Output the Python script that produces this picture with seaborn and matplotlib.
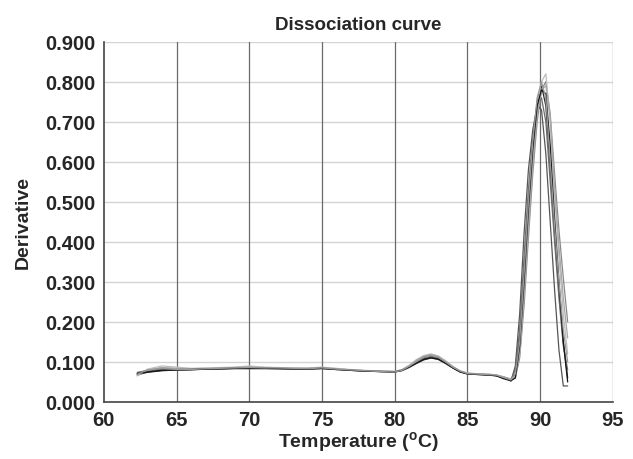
import pandas as pd; import numpy as np
import seaborn as sns; import matplotlib.pyplot as plt

temps = [62.3, 63, 64, 65, 66, 67, 68, 69, 70, 71, 72, 73, 74, 75, 76, 77, 78, 79, 80,
         80.5, 81, 81.5, 82, 82.5, 83, 83.5, 84, 84.5, 85, 85.5, 86, 86.5, 87, 87.5,
         88, 88.3, 88.6, 88.9, 89.2, 89.5, 89.8, 90.1, 90.4, 90.7, 91.0, 91.3, 91.6, 91.9]

curve_a = [0.068, 0.074, 0.078, 0.080, 0.081, 0.082, 0.083, 0.084, 0.085, 0.084, 0.084, 0.083, 0.083, 0.084, 0.082, 0.080, 0.078, 0.077, 0.076,
           0.080, 0.088, 0.098, 0.108, 0.112, 0.108, 0.098, 0.086, 0.076, 0.071, 0.070, 0.069, 0.068, 0.066, 0.060,
           0.055, 0.07, 0.16, 0.33, 0.50, 0.65, 0.75, 0.79, 0.74, 0.58, 0.42, 0.28, 0.15, 0.06]
curve_b = [0.072, 0.080, 0.085, 0.084, 0.083, 0.084, 0.085, 0.086, 0.088, 0.086, 0.085, 0.084, 0.084, 0.086, 0.083, 0.080, 0.078, 0.076, 0.075,
           0.079, 0.090, 0.103, 0.113, 0.118, 0.114, 0.102, 0.088, 0.077, 0.072, 0.070, 0.069, 0.069, 0.067, 0.062,
           0.056, 0.06, 0.11, 0.24, 0.41, 0.57, 0.70, 0.78, 0.80, 0.72, 0.57, 0.43, 0.31, 0.20]
curve_c = [0.070, 0.076, 0.080, 0.079, 0.080, 0.082, 0.082, 0.083, 0.083, 0.083, 0.083, 0.082, 0.082, 0.083, 0.081, 0.079, 0.077, 0.076, 0.075,
           0.078, 0.086, 0.096, 0.105, 0.110, 0.106, 0.096, 0.085, 0.075, 0.070, 0.069, 0.068, 0.067, 0.066, 0.062,
           0.052, 0.09, 0.22, 0.42, 0.58, 0.68, 0.74, 0.73, 0.62, 0.45, 0.28, 0.13, 0.04, 0.04]
curve_d = [0.065, 0.082, 0.090, 0.087, 0.084, 0.085, 0.086, 0.087, 0.090, 0.087, 0.086, 0.085, 0.085, 0.087, 0.084, 0.081, 0.079, 0.077, 0.076,
           0.081, 0.092, 0.106, 0.116, 0.120, 0.115, 0.103, 0.089, 0.078, 0.072, 0.070, 0.069, 0.069, 0.068, 0.062,
           0.058, 0.065, 0.13, 0.28, 0.46, 0.62, 0.74, 0.80, 0.82, 0.70, 0.52, 0.36, 0.22, 0.12]
curve_e = [0.074, 0.078, 0.082, 0.082, 0.082, 0.083, 0.084, 0.085, 0.086, 0.085, 0.084, 0.083, 0.083, 0.085, 0.082, 0.079, 0.077, 0.076, 0.075,
           0.079, 0.088, 0.100, 0.110, 0.114, 0.110, 0.099, 0.087, 0.077, 0.071, 0.070, 0.069, 0.068, 0.066, 0.061,
           0.056, 0.08, 0.18, 0.36, 0.53, 0.66, 0.74, 0.76, 0.70, 0.55, 0.40, 0.26, 0.14, 0.08]
curve_f = [0.066, 0.079, 0.086, 0.083, 0.082, 0.083, 0.084, 0.086, 0.087, 0.085, 0.084, 0.084, 0.084, 0.085, 0.083, 0.080, 0.078, 0.077, 0.076,
           0.080, 0.090, 0.104, 0.114, 0.119, 0.113, 0.101, 0.088, 0.077, 0.072, 0.071, 0.070, 0.069, 0.067, 0.063,
           0.057, 0.06, 0.12, 0.26, 0.43, 0.59, 0.72, 0.78, 0.79, 0.71, 0.54, 0.39, 0.26, 0.16]
curve_g = [0.071, 0.075, 0.079, 0.080, 0.081, 0.082, 0.083, 0.084, 0.084, 0.084, 0.083, 0.083, 0.082, 0.084, 0.081, 0.079, 0.077, 0.076, 0.075,
           0.079, 0.087, 0.097, 0.106, 0.110, 0.107, 0.097, 0.085, 0.075, 0.070, 0.069, 0.068, 0.067, 0.065, 0.058,
           0.053, 0.06, 0.14, 0.30, 0.48, 0.63, 0.74, 0.78, 0.77, 0.64, 0.46, 0.30, 0.15, 0.05]
curve_h = [0.069, 0.080, 0.084, 0.081, 0.081, 0.083, 0.084, 0.085, 0.086, 0.085, 0.085, 0.084, 0.083, 0.085, 0.082, 0.080, 0.078, 0.076, 0.075,
           0.079, 0.089, 0.101, 0.112, 0.116, 0.112, 0.100, 0.087, 0.077, 0.071, 0.070, 0.069, 0.068, 0.067, 0.061,
           0.055, 0.07, 0.15, 0.32, 0.50, 0.65, 0.76, 0.80, 0.76, 0.60, 0.44, 0.30, 0.18, 0.10]

curves = {"a": curve_a, "b": curve_b, "c": curve_c, "d": curve_d,
          "e": curve_e, "f": curve_f, "g": curve_g, "h": curve_h}
greys = {"a": "#2a2a2a", "b": "#8a8a8a", "c": "#555555", "d": "#bdbdbd",
         "e": "#6a6a6a", "f": "#a8a8a8", "g": "#151515", "h": "#999999"}

df = pd.concat([pd.DataFrame({"temp": temps, "deriv": v, "well": k}) for k, v in curves.items()])

sns.set_style("white")
plt.rcParams["font.family"] = ["Liberation Sans", "DejaVu Sans"]
plt.rcParams["font.weight"] = "bold"
plt.rcParams["mathtext.fontset"] = "custom"
plt.rcParams["mathtext.bf"] = "Liberation Sans:bold"
plt.rcParams["mathtext.rm"] = "Liberation Sans:bold"

fig = plt.figure(figsize=(6.33, 4.6), dpi=100)
ax = fig.add_axes([0.164, 0.124, 0.804, 0.783])

xt = [60, 65, 70, 75, 80, 85, 90, 95]
yt = np.arange(0, 0.91, 0.1)
for v in yt[1:]:
    ax.axhline(v, color="#d4d4d4", lw=1, zorder=0)
for v in xt[1:]:
    ax.axvline(v, color="#6a6a6a", lw=0.9, zorder=0)

sns.lineplot(data=df, x="temp", y="deriv", hue="well", palette=greys,
             legend=False, lw=0.9, ax=ax, sort=False)

ax.set_xlim(60, 95)
ax.set_ylim(0, 0.9)
ax.set_xticks(xt)
ax.set_yticks(yt)
ax.set_yticklabels([f"{v:.3f}" for v in yt])
ax.tick_params(length=0, labelsize=14.5, pad=6)
for lab in ax.get_xticklabels() + ax.get_yticklabels():
    lab.set_fontweight("bold")
for s in ["top", "right"]:
    ax.spines[s].set_visible(False)
for s in ["left", "bottom"]:
    ax.spines[s].set_color("#444444")
    ax.spines[s].set_linewidth(1.2)

ax.set_title("Dissociation curve", fontsize=13.5, fontweight="bold", pad=9)
ax.set_xlabel(r"Temperature ($^{\mathrm{o}}$C)", fontsize=14, fontweight="bold", labelpad=0)
ax.set_ylabel("Derivative", fontsize=14, fontweight="bold")
ax.yaxis.set_label_coords(-0.141, 0.5)

plt.savefig("out.png", dpi=100)
